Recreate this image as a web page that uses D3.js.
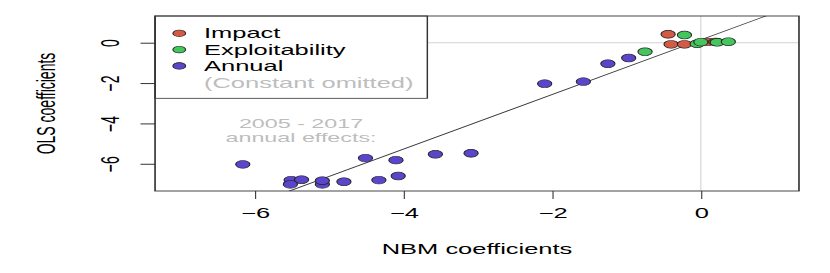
<!DOCTYPE html>
<html>
<head>
<meta charset="utf-8">
<script src="https://cdn.jsdelivr.net/npm/d3@7"></script>
<style>
  body { margin: 0; background: #fff; }
  text { font-family: "Liberation Sans", Arial, Helvetica, sans-serif; }
</style>
</head>
<body>
<svg id="chart"></svg>
<script>
// data
const impactX  = [-0.44, -0.40, -0.22, 0.09, 0.20];
const impactY  = [0.42, -0.08, -0.08, 0.04, 0.04];
const exploitX = [-0.75, -0.22, -0.05, 0.00, 0.22, 0.37];
const exploitY = [-0.45, 0.38, -0.05, 0.03, 0.02, 0.05];
const annualX  = [-6.16, -5.51, -5.37, -5.52, -5.09, -5.09, -4.80, -4.51, -4.33, -4.10, -4.07, -3.57, -3.09, -2.10, -1.58, -1.25, -0.97];
const annualY  = [-6.03, -6.81, -6.79, -7.02, -7.02, -6.84, -6.89, -5.72, -6.81, -5.82, -6.61, -5.53, -5.48, -2.03, -1.93, -1.04, -0.76];
const xTicks = [-6, -4, -2, 0];
const yTicks = [0, -2, -4, -6];
const fitLine = { intercept: 0.142, slope: 1.354 };
const legendLabels = ["Impact", "Exploitability", "Annual"];
const colors = ["#d45a43", "#43c65c", "#5a45cc"];

// the original image is stretched horizontally, so draw in a narrower box and let the svg stretch it
const stretch = 1.82;
const W = 830 / stretch, H = 273;
const margin = { top: 16, bottom: 82, left: 85.2, right: W - 439 };
const width = W - margin.left - margin.right;
const height = H - margin.top - margin.bottom;

const svg = d3.select('#chart')
    .attr('width', 830)
    .attr('height', 273)
    .attr('viewBox', `0 0 ${W} ${H}`)
    .attr('preserveAspectRatio', 'none');

const chart = svg.append('g')
    .attr('transform', `translate(${margin.left},${margin.top})`);

const x = d3.scaleLinear().domain([-7.34, 1.32]).range([0, width]);
const y = d3.scaleLinear().domain([-7.35, 1.324]).range([height, 0]);

chart.append('clipPath').attr('id', 'clip')
  .append('rect').attr('width', width).attr('height', height);

// reference lines at zero
chart.append('line')
    .attr('x1', 0).attr('x2', width)
    .attr('y1', y(0)).attr('y2', y(0))
    .attr('stroke', '#d3d3d3').attr('stroke-width', 1);
chart.append('line')
    .attr('x1', x(0)).attr('x2', x(0))
    .attr('y1', 0).attr('y2', height)
    .attr('stroke', '#d3d3d3').attr('stroke-width', 0.6);

// fitted line
const xd = x.domain();
chart.append('line')
    .attr('clip-path', 'url(#clip)')
    .attr('x1', x(xd[0])).attr('y1', y(fitLine.intercept + fitLine.slope * xd[0]))
    .attr('x2', x(xd[1])).attr('y2', y(fitLine.intercept + fitLine.slope * xd[1]))
    .attr('stroke', '#333').attr('stroke-width', 0.8);

// points
const groups = [
  { xs: impactX, ys: impactY, color: colors[0] },
  { xs: exploitX, ys: exploitY, color: colors[1] },
  { xs: annualX, ys: annualY, color: colors[2] }
];
groups.forEach(g => {
  chart.append('g').selectAll('ellipse')
    .data(g.xs.map((v, i) => [v, g.ys[i]]))
    .enter()
    .append('ellipse')
      .attr('cx', d => x(d[0]))
      .attr('cy', d => y(d[1]))
      .attr('rx', 3.9)
      .attr('ry', 3.9 * stretch / stretch * 1.0)
      .attr('fill', g.color)
      .attr('stroke', '#222')
      .attr('stroke-width', 0.6);
});

// legend
const legend = chart.append('g');
legend.append('rect')
    .attr('x', 0).attr('y', 0)
    .attr('width', 234.8 - margin.left).attr('height', 98.3 - margin.top)
    .attr('fill', '#fff').attr('stroke', '#333').attr('stroke-width', 0.8);
legendLabels.forEach((lab, i) => {
  const ly = 33.3 - margin.top + i * 16.3;
  legend.append('ellipse')
      .attr('cx', 98.5 - margin.left).attr('cy', ly)
      .attr('rx', 3.5).attr('ry', 3.3)
      .attr('fill', colors[i]).attr('stroke', '#222').attr('stroke-width', 0.6);
  legend.append('text')
      .attr('x', 112.1 - margin.left).attr('y', ly).attr('dy', '0.36em')
      .attr('font-size', 14).attr('fill', '#000')
      .text(lab);
});
legend.append('text')
    .attr('x', 112.1 - margin.left).attr('y', 33.3 - margin.top + 3 * 16.4).attr('dy', '0.36em')
    .attr('font-size', 14).attr('fill', '#bdbdbd')
    .text('(Constant omitted)');

// annotation
const note = chart.append('text')
    .attr('text-anchor', 'middle')
    .attr('font-size', 12.8)
    .attr('fill', '#bdbdbd');
note.append('tspan').attr('x', 165.4 - margin.left).attr('y', 123 - margin.top).attr('dy', '0.36em').text('2005 - 2017');
note.append('tspan').attr('x', 165.4 - margin.left).attr('y', 137.5 - margin.top).attr('dy', '0.36em').text('annual effects:');

// frame
chart.append('rect')
    .attr('width', width).attr('height', height)
    .attr('fill', 'none').attr('stroke', '#333').attr('stroke-width', 0.9);

// axes
const xAxis = d3.axisBottom(x).tickValues(xTicks).tickSize(8).tickPadding(9).tickSizeOuter(0);
const yAxis = d3.axisLeft(y).tickValues(yTicks).tickSize(8).tickSizeOuter(0);

const xAxisGroup = chart.append('g')
    .attr('transform', `translate(0,${height})`)
    .call(xAxis);
xAxisGroup.select('.domain').remove();
xAxisGroup.selectAll('line').attr('stroke', '#333').attr('stroke-width', 0.6);
xAxisGroup.selectAll('text')
    .attr('font-size', 14).attr('fill', '#000')
    .attr('font-family', '"Liberation Sans", Arial, sans-serif');

const yAxisGroup = chart.append('g').call(yAxis);
yAxisGroup.select('.domain').remove();
yAxisGroup.selectAll('line').attr('stroke', '#333').attr('stroke-width', 1);
yAxisGroup.selectAll('text')
    .attr('font-size', 14).attr('fill', '#000')
    .attr('font-family', '"Liberation Sans", Arial, sans-serif')
    .attr('x', 0).attr('dy', null)
    .attr('text-anchor', 'middle')
    .attr('transform', `translate(${60.4 - margin.left},0) rotate(-90)`)
    .attr('y', 0).attr('dy', '0.36em');

// axis titles
svg.append('text')
    .attr('x', margin.left + width / 2).attr('y', 249).attr('dy', '0.36em')
    .attr('text-anchor', 'middle').attr('font-size', 14)
    .text('NBM coefficients');
svg.append('text')
    .attr('transform', `translate(25,${margin.top + height / 2}) rotate(-90)`)
    .attr('dy', '0.36em')
    .attr('text-anchor', 'middle').attr('font-size', 14)
    .text('OLS coefficients');
</script>
</body>
</html>
